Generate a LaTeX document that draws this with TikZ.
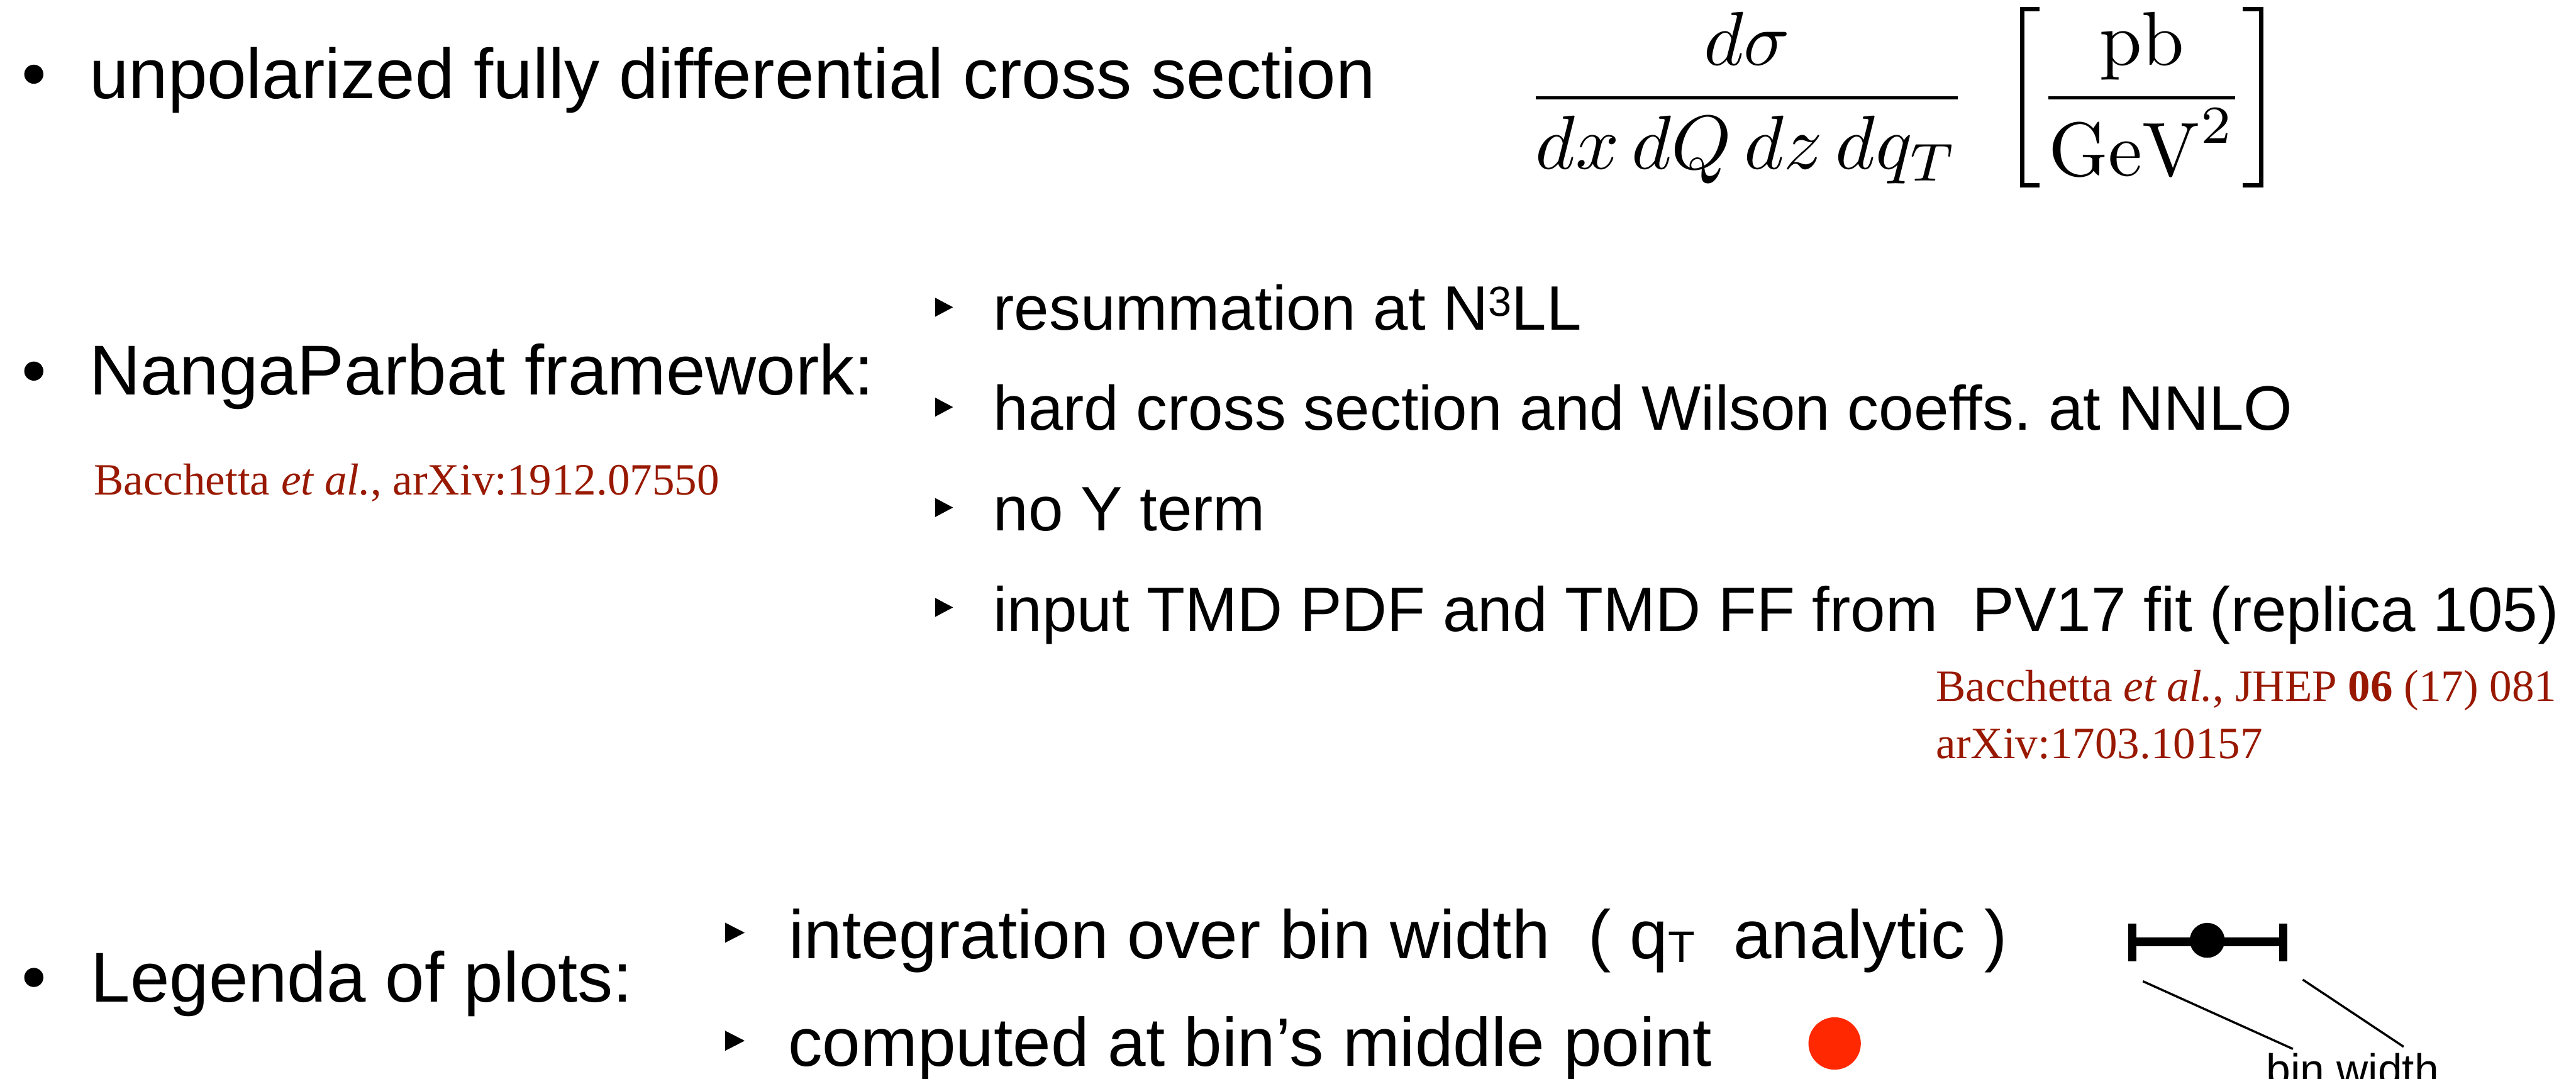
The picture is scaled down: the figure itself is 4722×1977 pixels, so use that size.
\documentclass[tikz,border=0pt]{standalone}
\usepackage{graphicx}
\usepackage[no-math]{fontspec}
\newfontfamily\sansface{Liberation Sans}
\newfontfamily\refface{Liberation Serif}
\definecolor{refred}{RGB}{152,24,0}
\definecolor{dotred}{RGB}{255,40,0}
\frenchspacing

% sub-bullet marker: right-pointing triangle (left edge x, centre y, width, half height)
\newcommand\subtri[4]{\fill (#1,#2-#4) -- (#1+#3,#2) -- (#1,#2+#4) -- cycle;}
% formulas are set at 10pt and enlarged
\newcommand\bigmath[1]{\scalebox{3.98}{$\displaystyle #1$}}

\tikzset{
  txt/.style={inner sep=0pt, outer sep=0pt, anchor=base west},
  mainline/.style={txt, font=\sansface\fontsize{36.8}{44}\selectfont},
  subA/.style={txt, font=\sansface\fontsize{32.7}{40}\selectfont},
  subB/.style={txt, font=\sansface\fontsize{35.7}{42}\selectfont},
  refnote/.style={txt, text=refred, font=\refface\fontsize{23.3}{28}\selectfont},
  mathbig/.style={inner sep=0pt, outer sep=0pt, anchor=base, font=\fontsize{10}{12}\selectfont},
  bracket/.style={line width=0.08cm, line cap=butt, line join=miter},
  errbar/.style={line width=0.15cm},
  leader/.style={line width=0.04cm},
}

\begin{document}
\begin{tikzpicture}[x=0.01cm, y=-0.01cm]
\useasboundingbox (0,0) rectangle (4722,1977);
\clip (0,0) rectangle (4722,1977);
\fill[white] (0,0) rectangle (4722,1977);

% ---- first item: cross section
\fill (62,136) circle[radius=17.5];
\node[mainline] (xs) at (164,181) {unpolarized fully differential cross section};
\node[mathbig] (frac) at (3202,214) {\bigmath{\frac{d\sigma}{dx\,dQ\,dz\,dq_T}}};
\node[mathbig] (unit) at (3926,214) {\bigmath{\frac{\mathrm{pb}}{\mathrm{GeV}^2}}};
% square brackets round the unit
\draw[bracket] (3739,17) -- (3707,17) -- (3707,339) -- (3739,339);
\draw[bracket] (4111,17) -- (4145,17) -- (4145,339) -- (4111,339);

% ---- second item: NangaParbat
\fill (62,680) circle[radius=17.5];
\node[mainline] (np) at (164,723) {NangaParbat framework:};
\node[refnote] (npref) at (172,907) {Bacchetta \textit{et al.}, arXiv:1912.07550};

\subtri{1714}{563}{33}{17.5}
\node[subA] (s1) at (1821,605) {resummation at N\raisebox{7.4pt}{\fontsize{21.9}{24}\selectfont 3}LL};
\subtri{1714}{746}{33}{17.5}
\node[subA] (s2) at (1821,788) {hard cross section and Wilson coeffs. at NNLO};
\subtri{1714}{930}{33}{17.5}
\node[subA] (s3) at (1821,972) {no Y term};
\subtri{1714}{1113}{33}{17.5}
\node[subA] (s4) at (1821,1157) {input TMD PDF and TMD FF from\ \ PV17 fit (replica 105)};

\node[refnote] (pvref) at (3549,1285) {Bacchetta \textit{et al.}, JHEP \textbf{06} (17) 081};
\node[refnote] (pvarx) at (3549,1390) {arXiv:1703.10157};

% ---- third item: legend of the plots
\fill (62,1791) circle[radius=17.5];
\node[mainline] (leg) at (167,1836) {Legenda of plots:};

\subtri{1329}{1709}{36}{18.5}
\node[subB] (l1) at (1446,1756) {integration over bin width\ \ (\ q\raisebox{-2pt}{\fontsize{23}{24}\selectfont T}\ \ analytic\ )};
\subtri{1329}{1907}{36}{18.5}
\node[subB] (l2) at (1445,1954) {computed at bin’s middle point};

% red marker
\fill[dotred] (3363,1912) circle[radius=48];

% error-bar symbol
\draw[errbar] (3909,1692) -- (3909,1762);
\draw[errbar] (4185,1692) -- (4185,1762);
\draw[line width=0.16cm] (3909,1726) -- (4185,1726);
\fill (4046,1723) circle[radius=32];

% bin width label with its two leader lines
\node[txt, font=\sansface\fontsize{22.8}{26}\selectfont] (bw) at (4154,1988) {bin width};
\coordinate (la) at (3928,1798);
\coordinate (lb) at (4221,1795);
\draw[leader] (la) -- (4203,1922);
\draw[leader] (lb) -- (4406,1918);
\end{tikzpicture}
\end{document}
